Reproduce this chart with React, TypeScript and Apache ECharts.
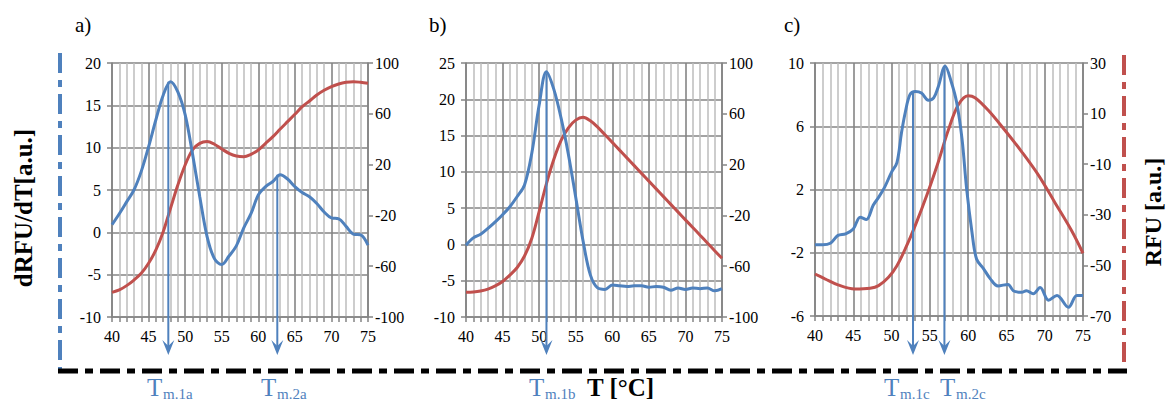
import React, { useEffect, useRef } from "react";
import * as echarts from "echarts";

const BLUE = "#4F81BD";
const RED = "#C0504D";
const FONT = "Liberation Serif";

// ---- Panel a ----
const tempsA = [40,41,42,43,44,45,46,47,48,49,50,51,52,53,54,55,56,57,58,59,60,61,62,63,64,65,66,67,68,69,70,71,72,73,74,75];
const dRfuA = [0.9,2.2,3.6,5.0,7.2,10.1,13.3,16.2,17.8,16.6,13.9,9.3,4.2,-0.5,-3.1,-3.8,-2.8,-1.6,0.5,2.2,4.4,5.4,6.0,6.8,6.3,5.4,4.7,4.2,3.4,2.4,1.7,1.6,0.7,-0.2,-0.3,-1.5];
const rfuA = [-80.6,-78.7,-75.3,-70.9,-65.6,-57.7,-47.2,-32.8,-14.4,3.9,19.7,31.5,36.7,38.1,36.0,32.3,28.9,26.8,26.2,28.1,31.5,36.7,42.0,48.0,53.8,59.6,65.6,70.1,74.8,78.5,81.4,83.5,84.8,85.3,84.8,84.0];

// ---- Panel b ----
const tempsB = tempsA;
const dRfuB = [-0.1,0.9,1.4,2.2,3.1,4.1,5.2,6.6,8.2,12.6,19.2,23.8,21.4,17.4,12.4,6.5,0.5,-4.2,-6.0,-6.2,-5.6,-5.7,-5.8,-5.7,-5.7,-5.9,-5.8,-5.9,-6.3,-6.0,-6.2,-6.0,-6.1,-6.0,-6.4,-6.1];
const rfuB = [-80.6,-80.3,-79.5,-78.0,-75.5,-72.0,-67.0,-61.0,-52.0,-38.0,-17.0,5.0,24.0,39.0,49.0,55.0,57.2,54.5,49.5,43.5,37.5,31.4,25.3,19.2,13.1,7.0,0.9,-5.2,-11.3,-17.4,-23.5,-29.5,-35.6,-41.7,-47.8,-53.8];

// ---- Panel c ----
const tempsCBlue = [40,41,42,43,44,45,45.9,46.7,47.6,48.3,49.1,50,50.7,51.3,51.8,52.4,53.1,53.9,54.8,55.5,56.1,57,57.8,58.5,59.2,59.8,60.5,61.1,62,62.9,63.9,65.2,65.9,67,67.6,68.5,69.4,70.5,71.6,73.1,74.2,75];
const dRfuC = [-1.5,-1.5,-1.4,-0.9,-0.8,-0.5,0.25,0.1,1.0,1.5,2.15,3.1,3.7,5.6,6.9,8.0,8.2,8.1,7.65,7.8,8.5,9.8,8.8,7.5,5.2,2.05,-0.7,-2.4,-3.0,-3.65,-4.1,-4.0,-4.4,-4.5,-4.4,-4.6,-4.2,-5.0,-4.7,-5.45,-4.7,-4.7];
const tempsCRed = [40,41.3,43,45.2,47.2,48.3,49.6,50.7,51.8,53.1,54.6,56.1,57.4,58.7,60.0,60.9,62.6,64.8,67.0,69.2,71.3,73.5,75];
const rfuC = [-53.4,-55.3,-57.7,-59.3,-59.0,-58.0,-54.7,-50.1,-43.4,-34.2,-22.3,-9.1,3.4,13.4,17.1,16.3,11.4,3.4,-5.1,-14.4,-25.0,-36.2,-45.2];

// ---- Axis ticks ----
const leftTicksA = [-10,-5,0,5,10,15,20];
const rightTicksAB = [-100,-60,-20,20,60,100];
const leftTicksB = [-10,-5,0,5,10,15,20,25];
const leftTicksC = [-6,-2,2,6,10];
const rightTicksC = [-70,-50,-30,-10,10,30];

// ---- Melting temperatures (T, dRFU/dT at the peak) ----
const tmA = [[47.7, 17.8], [62.6, 6.8]];
const tmB = [[51.0, 23.6]];
const tmC = [[52.8, 8.2], [56.9, 9.8]];
const tmLabelsA = ["m.1a", "m.2a"];
const tmLabelsB = ["m.1b"];
const tmLabelsC = ["m.1c", "m.2c"];

const zip = (xs: number[], ys: number[]) => xs.map((x, i) => [x, ys[i]]);

const GRID_DARK = "#858585";
const GRID_LIGHT = "#bcbcbc";

function xAxis(gridIndex: number) {
  return {
    type: "value", gridIndex, min: 40, max: 75, interval: 5,
    axisLine: { show: true, onZero: false, lineStyle: { color: GRID_DARK, width: 1.6 } },
    axisTick: { show: true, length: 5, lineStyle: { color: GRID_DARK, width: 1.5 } },
    minorTick: { show: true, splitNumber: 5, length: 5, lineStyle: { color: GRID_DARK, width: 1.5 } },
    splitLine: { show: true, lineStyle: { color: GRID_DARK, width: 1.6 } },
    minorSplitLine: { show: true, lineStyle: { color: GRID_LIGHT, width: 1.5 } },
    axisLabel: { color: "#000", fontFamily: FONT, fontSize: 16, margin: 11 },
  };
}

function leftAxis(gridIndex: number, ticks: number[]) {
  return {
    type: "value", gridIndex, position: "left",
    min: ticks[0], max: ticks[ticks.length - 1],
    axisLine: { show: true, onZero: false, lineStyle: { color: GRID_DARK, width: 1.6 } },
    axisTick: { show: true, length: 5, customValues: ticks, lineStyle: { color: GRID_DARK, width: 1.5 } },
    splitLine: { show: true, lineStyle: { color: GRID_DARK, width: 1.6 } },
    axisLabel: { color: "#000", fontFamily: FONT, fontSize: 16, margin: 11, customValues: ticks },
  };
}

function rightAxis(gridIndex: number, ticks: number[]) {
  return {
    type: "value", gridIndex, position: "right",
    min: ticks[0], max: ticks[ticks.length - 1],
    axisLine: { show: true, onZero: false, lineStyle: { color: GRID_DARK, width: 1.6 } },
    axisTick: { show: true, length: 5, customValues: ticks, lineStyle: { color: GRID_DARK, width: 1.5 } },
    splitLine: { show: false },
    axisLabel: { color: "#000", fontFamily: FONT, fontSize: 16, margin: 7, align: "left", customValues: ticks },
  };
}

function lineSeries(xi: number, yi: number, data: number[][], color: string, z: number) {
  return {
    type: "line", xAxisIndex: xi, yAxisIndex: yi, data,
    showSymbol: false, smooth: 0.35, z,
    lineStyle: { color, width: 3 },
    itemStyle: { color },
  };
}

export default function App() {
  const ref = useRef<HTMLDivElement>(null);
  useEffect(() => {
    if (!ref.current) return;
    const chart = echarts.init(ref.current, null, { renderer: "svg" });
    chart.setOption({
      animation: false,
      textStyle: { fontFamily: FONT },
      grid: [
        { left: 112, top: 63, width: 256, height: 254 },
        { left: 466, top: 63, width: 256, height: 254 },
        { left: 815, top: 63, width: 268, height: 253 },
      ],
      xAxis: [xAxis(0), xAxis(1), xAxis(2)],
      yAxis: [
        leftAxis(0, leftTicksA), rightAxis(0, rightTicksAB),
        leftAxis(1, leftTicksB), rightAxis(1, rightTicksAB),
        leftAxis(2, leftTicksC), rightAxis(2, rightTicksC),
      ],
      series: [
        lineSeries(0, 1, zip(tempsA, rfuA), RED, 2),
        lineSeries(0, 0, zip(tempsA, dRfuA), BLUE, 3),
        lineSeries(1, 3, zip(tempsB, rfuB), RED, 2),
        lineSeries(1, 2, zip(tempsB, dRfuB), BLUE, 3),
        lineSeries(2, 5, zip(tempsCRed, rfuC), RED, 2),
        lineSeries(2, 4, zip(tempsCBlue, dRfuC), BLUE, 3),
      ],
    });

    const els: any[] = [];
    // panel letters
    [["a)", 75], ["b)", 429], ["c)", 784]].forEach(([t, x]) => {
      els.push({ type: "text", x, y: 14, style: { text: t, fontFamily: FONT, fontSize: 21, fill: "#000" } });
    });
    // axis titles
    els.push({ type: "text", x: 23, y: 208, rotation: Math.PI / 2,
      style: { text: "dRFU/dT[a.u.]", fontFamily: FONT, fontSize: 25, fontWeight: "bold", fill: "#000", align: "center", verticalAlign: "middle" } });
    els.push({ type: "text", x: 1153, y: 212, rotation: Math.PI / 2,
      style: { text: "RFU [a.u.]", fontFamily: FONT, fontSize: 24, fontWeight: "bold", fill: "#000", align: "center", verticalAlign: "middle" } });
    // dashed frame
    els.push({ type: "line", shape: { x1: 60, y1: 53, x2: 60, y2: 370 }, style: { stroke: BLUE, lineWidth: 4, lineDash: [20, 7, 7, 7] } });
    els.push({ type: "line", shape: { x1: 1124, y1: 55, x2: 1124, y2: 373 }, style: { stroke: RED, lineWidth: 4, lineDash: [20, 7, 7, 7] } });
    els.push({ type: "line", shape: { x1: 58, y1: 371, x2: 1127, y2: 371 }, style: { stroke: "#000", lineWidth: 5, lineDash: [20, 7, 8, 7] } });
    // T [°C]
    els.push({ type: "text", x: 587, y: 375, style: { text: "T [°C]", fontFamily: FONT, fontSize: 25, fontWeight: "bold", fill: "#000" } });

    // Tm arrows and labels
    const groups: [number, number, number[][], string[]][] = [
      [0, 0, tmA, tmLabelsA], [1, 2, tmB, tmLabelsB], [2, 4, tmC, tmLabelsC],
    ];
    const labelX: number[] = [147, 261, 529, 884, 940];
    let k = 0;
    groups.forEach(([xi, yi, tms, labels]) => {
      tms.forEach((tm, j) => {
        const p = chart.convertToPixel({ xAxisIndex: xi, yAxisIndex: yi }, tm) as number[];
        const px = p[0];
        els.push({ type: "line", z: 10, shape: { x1: px, y1: p[1], x2: px, y2: 348 }, style: { stroke: BLUE, lineWidth: 2 } });
        els.push({ type: "polygon", z: 10, shape: { points: [[px - 6, 340], [px, 355], [px + 6, 340], [px, 346]] }, style: { fill: BLUE } });
        const lx = labelX[k++];
        els.push({ type: "text", x: lx, y: 375, style: { text: "T", fontFamily: FONT, fontSize: 25, fill: BLUE } });
        els.push({ type: "text", x: lx + 16, y: 386, style: { text: labels[j], fontFamily: FONT, fontSize: 15, fill: BLUE } });
      });
    });
    chart.setOption({ graphic: { elements: els } });
    return () => chart.dispose();
  }, []);
  return <div ref={ref} style={{ position: "absolute", left: 0, top: 0, width: 1167, height: 401 }} />;
}
